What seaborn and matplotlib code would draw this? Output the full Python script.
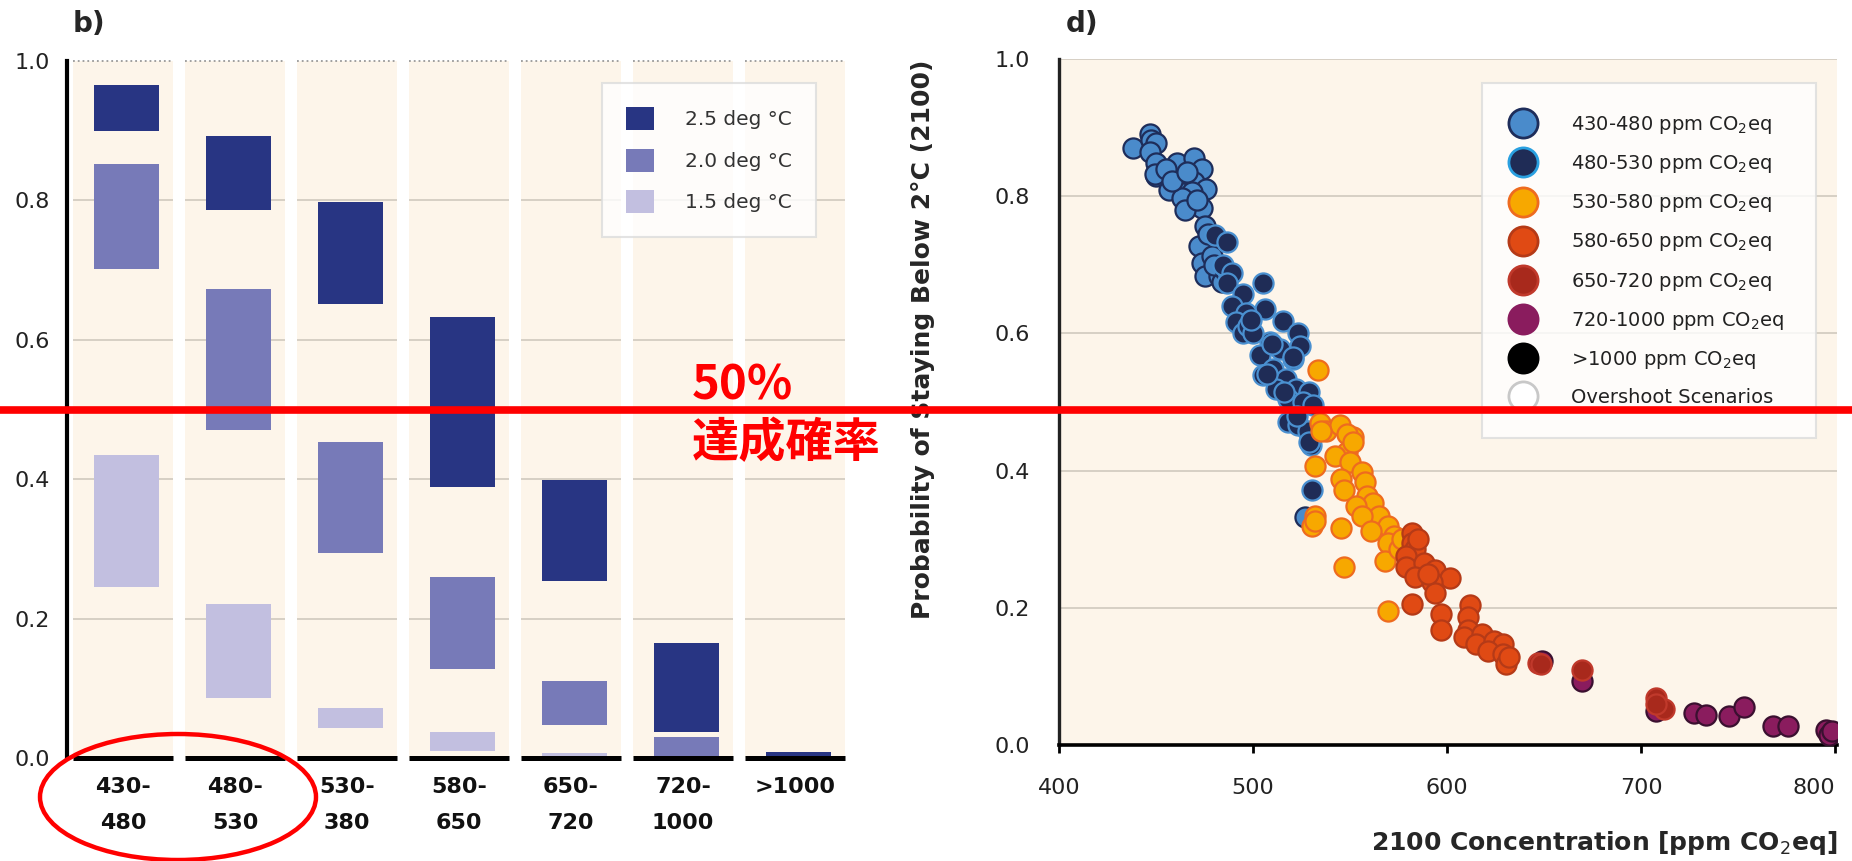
import numpy as np
import pandas as pd
import matplotlib.pyplot as plt
import seaborn as sns
import matplotlib.transforms as mtransforms
from matplotlib.patches import Ellipse
from matplotlib.lines import Line2D

sns.set_style("white")
plt.rcParams['font.family'] = ['DejaVu Sans', 'Noto Sans CJK JP']

# ---- panel b): probability ranges per concentration category ----
categories = ['430-\n480', '480-\n530', '530-\n380', '580-\n650', '650-\n720', '720-\n1000', '>1000']
deg25_low = [0.900, 0.786, 0.651, 0.389, 0.254, 0.038, 0.0]
deg25_high = [0.966, 0.892, 0.797, 0.633, 0.399, 0.165, 0.008]
deg20_low = [0.701, 0.471, 0.294, 0.128, 0.047, 0.0, 0.0]
deg20_high = [0.852, 0.673, 0.454, 0.260, 0.110, 0.030, 0.0]
deg15_low = [0.245, 0.086, 0.043, 0.010, 0.0, 0.0, 0.0]
deg15_high = [0.435, 0.221, 0.072, 0.037, 0.007, 0.0, 0.0]
ytick_vals = [0.0, 0.2, 0.4, 0.6, 0.8, 1.0]

# ---- panel d): scenario scatter ----
g430_x = [438, 447, 447.5, 450, 447, 450, 450, 449.5, 461, 469.6, 473.9, 460, 469.6, 475.6, 463.4,
          468.6, 456.7, 473.7, 475.4, 472, 473.7, 475.4, 478.8, 482.3, 484, 463.4, 465, 526.8,
          455, 458, 466, 471, 477, 480, 486]
g430_y = [0.870, 0.891, 0.882, 0.877, 0.865, 0.848, 0.829, 0.833, 0.848, 0.855, 0.839, 0.814, 0.820, 0.810, 0.804,
          0.806, 0.809, 0.783, 0.756, 0.727, 0.703, 0.684, 0.713, 0.684, 0.675, 0.797, 0.780, 0.332,
          0.840, 0.822, 0.835, 0.795, 0.745, 0.700, 0.690]
g480_x = [480.4, 486.4, 484.7, 489, 486.4, 505.3, 494.8, 489, 506, 496.5, 491.3, 494.8, 515.4, 523.2, 524,
          508.5, 513.7, 503.4, 520.6, 510.2, 505, 517.2, 512, 522.3, 529, 518, 526, 531, 518, 523,
          528.4, 530, 530.3, 528.8, 497.6, 509.7, 520.8, 507, 515.9, 522.8, 500, 499]
g480_y = [0.744, 0.733, 0.700, 0.688, 0.674, 0.674, 0.657, 0.640, 0.635, 0.630, 0.616, 0.601, 0.618, 0.601, 0.582,
          0.587, 0.577, 0.568, 0.563, 0.548, 0.539, 0.534, 0.519, 0.519, 0.514, 0.505, 0.500, 0.495, 0.471, 0.466,
          0.457, 0.437, 0.371, 0.442, 0.611, 0.585, 0.565, 0.541, 0.514, 0.480, 0.600, 0.620]
g530_x = [533.7, 534.4, 537.8, 544.7, 551.6, 548.2, 534.8, 548.5, 551.5, 531.8, 542.4, 550, 556, 557.6, 545.5,
          547, 559, 562, 553, 565, 556, 569.7, 560.6, 572.7, 531.8, 530.3, 545.5, 569.7, 568, 547,
          569.7, 531.8, 575, 577]
g530_y = [0.546, 0.469, 0.457, 0.466, 0.449, 0.427, 0.457, 0.454, 0.442, 0.407, 0.422, 0.412, 0.398, 0.383, 0.388,
          0.371, 0.363, 0.353, 0.349, 0.334, 0.334, 0.319, 0.312, 0.304, 0.334, 0.319, 0.317, 0.295, 0.268, 0.260,
          0.196, 0.326, 0.285, 0.300]
g580_x = [581.8, 581.8, 583.3, 578.8, 578.8, 587.9, 583.3, 594, 601.5, 592.4, 594, 581.8, 597, 597, 612,
          610.6, 610.6, 609, 618, 615, 624, 628.8, 621, 628.8, 630.3, 631.8, 585, 590]
g580_y = [0.309, 0.295, 0.285, 0.275, 0.260, 0.265, 0.245, 0.255, 0.243, 0.238, 0.221, 0.206, 0.191, 0.167, 0.204,
          0.187, 0.167, 0.157, 0.162, 0.147, 0.152, 0.147, 0.137, 0.133, 0.118, 0.128, 0.300, 0.250]
g650_x = [647, 648.5, 669.7, 707.6, 712, 707.6]
g650_y = [0.120, 0.118, 0.110, 0.069, 0.052, 0.060]
g720_x = [649, 669.7, 707.6, 727.3, 733.3, 745.5, 753, 768, 775.8, 795.5, 797, 798.5]
g720_y = [0.122, 0.093, 0.049, 0.047, 0.044, 0.042, 0.056, 0.027, 0.027, 0.022, 0.015, 0.020]
xtick_vals = [400, 500, 600, 700, 800]

bg = '#fdf5ea'
grid_c = '#d6cfc4'
W, H = 1852, 861

fig = plt.figure(figsize=(W / 100, H / 100), dpi=100)

# ================= panel b =================
ax1 = fig.add_axes([67 / W, 1 - 758 / H, 784 / W, 697 / H])
ax1.set_facecolor('white')
ax1.set_xlim(-0.5, 6.5)
ax1.set_ylim(0, 1)
xpos = np.arange(len(categories))
half = 0.446
for i in xpos:
    ax1.axvspan(i - half, i + half, color=bg, zorder=0, lw=0)
    ax1.hlines([0.2, 0.4, 0.6, 0.8], i - half, i + half, color=grid_c, lw=1.4, zorder=0.5)
    ax1.hlines(1.0, i - half, i + half, color='#999999', lw=1.3, linestyles=':', zorder=0.5, clip_on=False)
    ax1.hlines(0.0, i - half, i + half, color='black', lw=3.6, zorder=3, clip_on=False)

series = [('2.5 deg °C', deg25_low, deg25_high, '#283583'),
          ('2.0 deg °C', deg20_low, deg20_high, '#777ab8'),
          ('1.5 deg °C', deg15_low, deg15_high, '#c2bfe0')]
for lab, lo, hi, col in series:
    ax1.bar(xpos + 0.03, np.array(hi) - np.array(lo), bottom=lo, width=0.58, color=col, label=lab, zorder=2, lw=0)

ax1.set_xticks(xpos, categories, fontsize=16, fontweight='bold', linespacing=2.0, color='#111111')
ax1.set_yticks(ytick_vals, [f'{v:.1f}' for v in ytick_vals], fontsize=16, color='#222222')
ax1.tick_params(axis='x', length=0, pad=14)
ax1.tick_params(axis='y', length=0, pad=12)
for s in ['top', 'right', 'bottom']:
    ax1.spines[s].set_visible(False)
ax1.spines['left'].set_color('black')
ax1.spines['left'].set_linewidth(3)

leg1 = ax1.legend(loc='upper left', bbox_to_anchor=(602 / W, 1 - 83 / H), bbox_transform=fig.transFigure,
                  borderaxespad=0, fontsize=14.5, frameon=True, fancybox=False, borderpad=1.2,
                  labelspacing=0.9, handlelength=1.4, handleheight=1.4, handletextpad=1.5)
leg1.get_frame().set_edgecolor('#dcdcdc')
leg1.get_frame().set_linewidth(1.5)
for t in leg1.get_texts():
    t.set_color('#333333')

fig.text(73 / W, 1 - 10 / H, 'b)', fontsize=20, fontweight='bold', va='top', ha='left')

# ================= panel d =================
ax2 = fig.add_axes([1059 / W, 1 - 745 / H, 778 / W, 686 / H])
ax2.set_facecolor(bg)
ax2.set_xlim(400, 801)
ax2.set_ylim(0, 1)

groups = [(g430_x, g430_y, '#4a8bcb', '#1e2d5a'),
          (g480_x, g480_y, '#1f2c56', '#4a90d0'),
          (g530_x, g530_y, '#f7a800', '#ee6b1f'),
          (g580_x, g580_y, '#e04a14', '#b53a17'),
          (g720_x, g720_y, '#8a1c5e', '#3a1030'),
          (g650_x, g650_y, '#a8291c', '#c0392b')]
for gx, gy, fc, ec in groups:
    df = pd.DataFrame({'conc': gx, 'prob': gy})
    sns.scatterplot(data=df, x='conc', y='prob', color=fc, edgecolor=ec, s=210, linewidth=1.6,
                    ax=ax2, zorder=3, legend=False)

ax2.set_yticks(ytick_vals, [f'{v:.1f}' for v in ytick_vals], fontsize=16, color='#222222')
ax2.set_xticks(xtick_vals, [str(v) for v in xtick_vals], fontsize=16, color='#222222')
ax2.get_xticklabels()[-1].set_ha('right')
ax2.grid(axis='y', color=grid_c, lw=1.4, zorder=0)
ax2.set_axisbelow(True)
ax2.tick_params(axis='y', length=0, pad=21)
ax2.tick_params(axis='x', length=6, width=2, color='black', direction='out', pad=18, bottom=True)
for s in ['top', 'right']:
    ax2.spines[s].set_visible(False)
ax2.spines['left'].set_color('#222222')
ax2.spines['left'].set_linewidth(2.4)
ax2.spines['bottom'].set_color('black')
ax2.spines['bottom'].set_linewidth(2.6)

ax2.set_ylabel('Probability of Staying Below 2°C (2100)', fontsize=18, fontweight='bold')
ax2.yaxis.set_label_coords(-0.159, 0.591)
ax2.set_xlabel('2100 Concentration [ppm CO$_2$eq]', fontsize=18, fontweight='bold', ha='right')
ax2.xaxis.set_label_coords(1.0, -0.122)

leg_labels = ['430-480 ppm CO$_2$eq', '480-530 ppm CO$_2$eq', '530-580 ppm CO$_2$eq', '580-650 ppm CO$_2$eq',
              '650-720 ppm CO$_2$eq', '720-1000 ppm CO$_2$eq', '>1000 ppm CO$_2$eq', 'Overshoot Scenarios']
leg_fc = ['#4a8bcb', '#1f2c56', '#f7a800', '#e04a14', '#a8291c', '#8a1c5e', '#000000', '#ffffff']
leg_ec = ['#1e2d5a', '#2aa0e0', '#ee6b1f', '#b53a17', '#c0392b', '#8a1c5e', '#000000', '#c8c8c8']
handles = [Line2D([], [], ls='', marker='o', markersize=21, markerfacecolor=fc, markeredgecolor=ec,
                  markeredgewidth=2) for fc, ec in zip(leg_fc, leg_ec)]
leg2 = ax2.legend(handles, leg_labels, loc='upper left', bbox_to_anchor=(1482 / W, 1 - 83 / H),
                  bbox_transform=fig.transFigure, borderaxespad=0, fontsize=14, frameon=True, fancybox=False,
                  borderpad=1.6, labelspacing=0.88, handlelength=1.0, handletextpad=2.0)
leg2.get_frame().set_edgecolor('#dcdcdc')
leg2.get_frame().set_linewidth(1.5)
for t in leg2.get_texts():
    t.set_color('#222222')

fig.text(1066 / W, 1 - 10 / H, 'd)', fontsize=20, fontweight='bold', va='top', ha='left')

# ================= annotations =================
trans = mtransforms.blended_transform_factory(fig.transFigure, ax1.transData)
fig.add_artist(Line2D([0, 1], [0.5, 0.5], transform=trans, color='#ff0000', lw=5.5, zorder=10))
fig.text(692 / W, 1 - 386 / H, '50%', color='#ff0000', fontsize=34, fontweight='bold', va='center', ha='left',
         family=['Noto Sans CJK JP', 'DejaVu Sans'], zorder=11)
fig.text(692 / W, 1 - 443 / H, '達成確率', color='#ff0000', fontsize=34, fontweight='bold', va='center', ha='left',
         family=['Noto Sans CJK JP', 'DejaVu Sans'], zorder=11)
fig.add_artist(Ellipse((178 / W, 1 - 797 / H), 276 / W, 126 / H, transform=fig.transFigure,
                       fill=False, edgecolor='#ff0000', lw=3.2, zorder=11))

fig.savefig('out.png', dpi=100, facecolor='white')
